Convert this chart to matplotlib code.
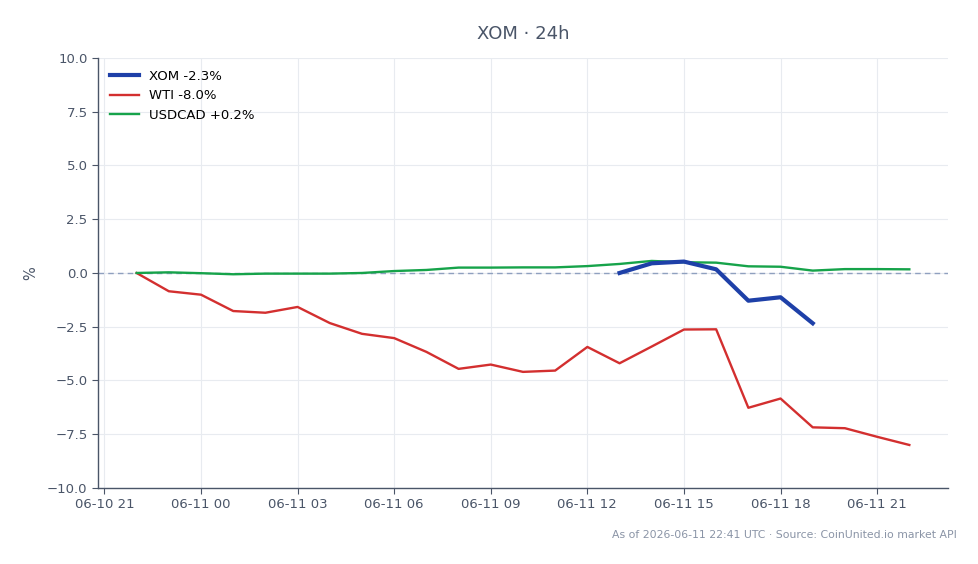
import matplotlib
matplotlib.use("Agg")
import matplotlib.pyplot as plt
import matplotlib.dates as mdates
import pandas as pd

hours = pd.date_range("2026-06-10 22:00", "2026-06-11 22:00", freq="h")
wti = [0.0, -0.85, -1.01, -1.77, -1.85, -1.58, -2.33, -2.83, -3.03, -3.67, -4.46, -4.26,
       -4.6, -4.54, -3.44, -4.2, -3.42, -2.63, -2.62, -6.27, -5.84, -7.18, -7.22, -7.62, -8.0]
usdcad = [0.0, 0.03, -0.01, -0.06, -0.03, -0.03, -0.03, 0.0, 0.09, 0.14, 0.25, 0.25,
          0.26, 0.26, 0.32, 0.42, 0.56, 0.5, 0.48, 0.31, 0.29, 0.11, 0.18, 0.18, 0.17]
xom_hours = pd.date_range("2026-06-11 13:00", "2026-06-11 19:00", freq="h")
xom = [0.0, 0.45, 0.53, 0.17, -1.29, -1.13, -2.34]

labels = ["XOM -2.3%", "WTI -8.0%", "USDCAD +0.2%"]
title = "XOM · 24h"
footer = "As of 2026-06-11 22:41 UTC · Source: CoinUnited.io market API"

txt = "#4a5568"
fig = plt.figure(figsize=(9.79, 5.64), dpi=100)
ax = fig.add_axes([0.1001, 0.1348, 0.8682, 0.7624])

ax.plot(xom_hours, xom, color="#1e40a8", lw=3.0, label=labels[0], zorder=4)
ax.plot(hours, wti, color="#d32f2f", lw=1.7, label=labels[1], zorder=3)
ax.plot(hours, usdcad, color="#16a34a", lw=1.7, label=labels[2], zorder=3)
ax.axhline(0, color="#8fa0bf", lw=1.0, ls=(0, (4, 3)), zorder=2)

ax.set_ylim(-10, 10)
ax.set_yticks([-10, -7.5, -5, -2.5, 0, 2.5, 5, 7.5, 10])
ax.yaxis.set_major_formatter(matplotlib.ticker.FuncFormatter(
    lambda v, p: f"{v:.1f}".replace("-", "\u2212")))
ax.xaxis.set_major_locator(mdates.HourLocator(byhour=range(0, 24, 3)))
ax.xaxis.set_major_formatter(mdates.DateFormatter("%m-%d %H"))
ax.margins(x=0.05)

ax.grid(True, color="#e8ebf0", lw=0.8)
ax.set_axisbelow(True)
for s in ["top", "right"]:
    ax.spines[s].set_visible(False)
for s in ["left", "bottom"]:
    ax.spines[s].set_color(txt)
    ax.spines[s].set_linewidth(1.0)
ax.tick_params(colors=txt, labelsize=9.5, length=4)
ax.set_ylabel("%", color=txt, fontsize=10.5, labelpad=6)
ax.set_title(title, color=txt, fontsize=13, pad=14)

leg = ax.legend(loc="upper left", frameon=False, fontsize=9.5, handlelength=2.2,
                borderaxespad=0.5, labelspacing=0.5)
fig.text(0.977, 0.052, footer, ha="right", va="center", fontsize=7.8, color="#8a94a6")

fig.savefig("out.png", dpi=100)
